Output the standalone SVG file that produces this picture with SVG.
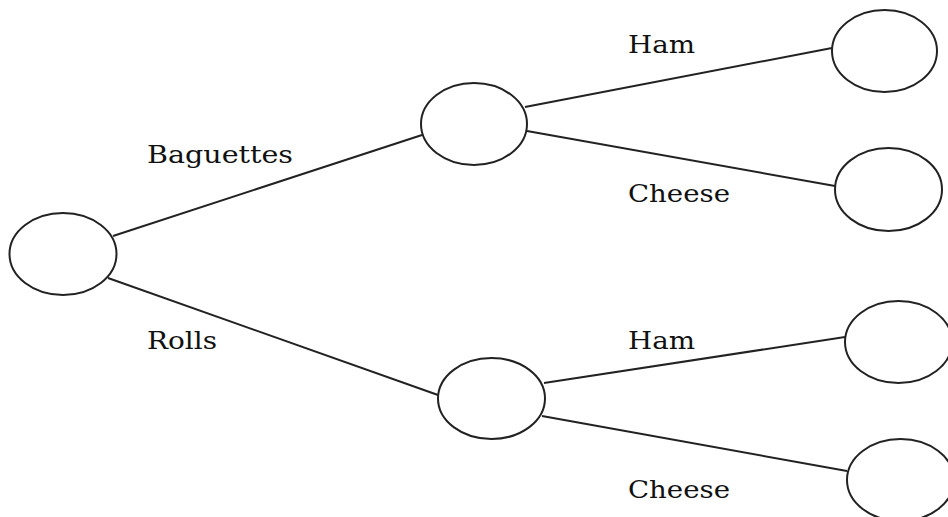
<svg xmlns="http://www.w3.org/2000/svg" width="948" height="517" viewBox="0 0 948 517">
<style>
.n{fill:#fff;stroke:#222;stroke-width:2}
.e{stroke:#222;stroke-width:2;fill:none}
text{font-family:"DejaVu Serif","Liberation Serif",serif;font-size:24px;fill:#111}
</style>
<rect width="948" height="517" fill="#fff"/>
<g id="connectors">
<line class="e" x1="113" y1="236" x2="422" y2="135"/>
<line class="e" x1="108" y1="278" x2="438" y2="395"/>
<line class="e" x1="525" y1="107" x2="832" y2="48"/>
<line class="e" x1="527" y1="131" x2="835" y2="186"/>
<line class="e" x1="544" y1="383" x2="845" y2="337"/>
<line class="e" x1="542" y1="416" x2="847" y2="471"/>
</g>
<g id="root"><ellipse class="n" cx="63" cy="254" rx="53.5" ry="41"/></g>
<g id="baguettes"><ellipse class="n" cx="474" cy="124" rx="53" ry="41"/></g>
<g id="rolls"><ellipse class="n" cx="491.5" cy="398.5" rx="53.5" ry="40.5"/></g>
<g id="baguettes-ham"><ellipse class="n" cx="884.5" cy="51" rx="52.5" ry="41"/></g>
<g id="baguettes-cheese"><ellipse class="n" cx="888.5" cy="189.5" rx="53.5" ry="41.5"/></g>
<g id="rolls-ham"><ellipse class="n" cx="898.5" cy="342" rx="53.5" ry="41"/></g>
<g id="rolls-cheese"><ellipse class="n" cx="900.5" cy="480" rx="53.5" ry="41"/></g>
<g id="labels">
<text x="147" y="163" textLength="146" lengthAdjust="spacingAndGlyphs">Baguettes</text>
<text x="147" y="349" textLength="70" lengthAdjust="spacingAndGlyphs">Rolls</text>
<text x="628" y="53" textLength="67" lengthAdjust="spacingAndGlyphs">Ham</text>
<text x="628" y="202" textLength="102" lengthAdjust="spacingAndGlyphs">Cheese</text>
<text x="628" y="349" textLength="67" lengthAdjust="spacingAndGlyphs">Ham</text>
<text x="628" y="498" textLength="102" lengthAdjust="spacingAndGlyphs">Cheese</text>
</g>
</svg>
